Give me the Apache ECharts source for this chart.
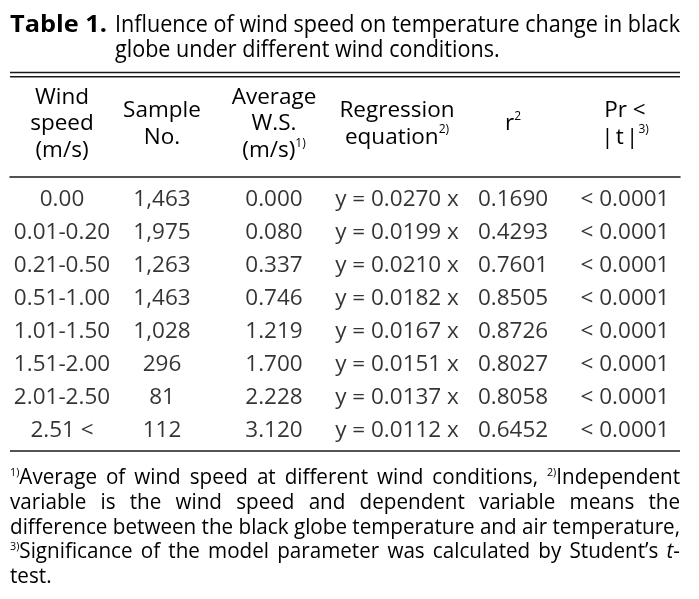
<!DOCTYPE html>
<html><head><meta charset="utf-8">
<script src="https://cdn.jsdelivr.net/npm/echarts@6/dist/echarts.min.js"></script>
<style>html,body{margin:0;padding:0;background:#fff}#c{width:699px;height:599px}</style>
</head><body><div id="c"></div>
<script>
// ---- data ----
const windSpeed = ['0.00', '0.01-0.20', '0.21-0.50', '0.51-1.00', '1.01-1.50', '1.51-2.00', '2.01-2.50', '2.51 <'];
const sampleNo = [1463, 1975, 1263, 1463, 1028, 296, 81, 112];
const avgWS = [0.000, 0.080, 0.337, 0.746, 1.219, 1.700, 2.228, 3.120];
const regCoef = [0.0270, 0.0199, 0.0210, 0.0182, 0.0167, 0.0151, 0.0137, 0.0112];
const r2 = [0.1690, 0.4293, 0.7601, 0.8505, 0.8726, 0.8027, 0.8058, 0.6452];
const prT = ['< 0.0001', '< 0.0001', '< 0.0001', '< 0.0001', '< 0.0001', '< 0.0001', '< 0.0001', '< 0.0001'];
const headers = [
  ['Wind', 'speed', '(m/s)'],
  ['Sample', 'No.'],
  ['Average', 'W.S.', '(m/s){sup|1)}'],
  ['Regression', 'equation{sup|2)}'],
  ['r{sup|2}'],
  ['Pr <', '|\u200at\u200a|{sup|3)}']
];
const titleBold = 'Table 1.';
const titleLines = ['Influence of wind speed on temperature change in black', 'globe under different wind conditions.'];
const footnotes = [
  '{sup|1)}Average of wind speed at different wind conditions, {sup|2)}Independent',
  'variable is the wind speed and dependent variable means the',
  'difference between the black globe temperature and air temperature,',
  '{sup|3)}Significance of the model parameter was calculated by Student\u2019s {it|t}-',
  'test.'
];

// ---- layout / style ----
const FF = "'Open Sans', sans-serif";
const INK = '#000';
const RULE = '#1a1a1a';
const colCenters = [62, 162, 274, 397, 513, 625];
const L = 10, R = 680;
const cellFont = 22.5;
const ctx = document.createElement('canvas').getContext('2d');
function tw(text, size, weight, style) {
  ctx.font = (style || 'normal') + ' ' + (weight || 'normal') + ' ' + size + 'px ' + FF;
  return ctx.measureText(text).width;
}
const cols = [
  windSpeed,
  sampleNo.map(v => v.toLocaleString('en-US')),
  avgWS.map(v => v.toFixed(3)),
  regCoef.map(v => 'y = ' + v.toFixed(4) + ' x'),
  r2.map(v => v.toFixed(4)),
  prT
];
const rowNames = windSpeed.map((_, i) => 'r' + i);

const chart = echarts.init(document.getElementById('c'), null, {renderer: 'canvas', width: 699, height: 599});

const series = cols.map((col, c) => ({
  type: 'scatter',
  xAxisIndex: 0,
  symbolSize: 1,
  itemStyle: {color: 'rgba(0,0,0,0)'},
  silent: true,
  clip: false,
  data: col.map((t, r) => ({value: [colCenters[c], r], name: t})),
  label: {
    show: true, position: 'inside', formatter: p => p.name,
    color: INK, fontFamily: FF, fontSize: cellFont
  }
}));
// bottom rule of the table, drawn by a custom series just below the last row
series.push({
  type: 'custom',
  silent: true,
  clip: false,
  z: 50,
  data: [[L, rowNames.length - 1]],
  renderItem: (params, api) => {
    const p = api.coord([api.value(0), api.value(1)]);
    const step = api.size([0, 1])[1];
    const y = p[1] + step / 2 + 4.3;
    return {type: 'rect', shape: {x: L, y: y - 0.8, width: R - L, height: 1.6}, style: {fill: RULE}};
  }
});

// graphic elements
const g = [];
let gid = 0;
function rule(y, w) {
  g.push({id: 'rule' + (gid++), type: 'rect', z: 100, shape: {x: L, y: y - w / 2, width: R - L, height: w}, style: {fill: RULE}, silent: true});
}
rule(72.5, 1.3); rule(76.8, 1.6);

// title
const titleSize = 24;
g.push({id: 'tb', type: 'text', x: L, y: 25, style: {text: titleBold, fontFamily: FF, fontWeight: 'bold', fontSize: titleSize, fill: INK, verticalAlign: 'middle', align: 'left'}, scaleX: 97 / tw(titleBold, titleSize, 'bold')});
const tScale = (R - 115) / tw(titleLines[0], titleSize);
titleLines.forEach((t, i) => {
  g.push({id: 'tl' + i, type: 'text', x: 115, y: 25 + 25 * i, style: {text: t, fontFamily: FF, fontSize: titleSize, fill: INK, verticalAlign: 'middle', align: 'left'}, scaleX: tScale});
});

// header
const headRich = {sup: {fontSize: 12, fontFamily: FF, verticalAlign: 'top', fill: INK, lineHeight: 22}};
headers.forEach((lines, c) => {
  g.push({id: 'h' + c, type: 'text', x: colCenters[c], y: 124, style: {
    text: lines.join('\n'), fontFamily: FF, fontSize: cellFont, lineHeight: 26.5, fill: INK,
    align: 'center', verticalAlign: 'middle', rich: headRich
  }});
});

// footnotes (justified)
const fnSize = 22;
const supSize = 11.5;
const fnRich = {
  sup: {fontSize: supSize, fontFamily: FF, verticalAlign: 'top', fill: INK, lineHeight: 20},
  it: {fontSize: fnSize, fontFamily: FF, fontStyle: 'italic', fill: INK}
};
function parts(word) {
  const out = []; const re = /\{(\w+)\|([^}]*)\}/g; let last = 0, m;
  while ((m = re.exec(word))) {
    if (m.index > last) out.push({t: word.slice(last, m.index)});
    out.push({t: m[2], s: m[1]}); last = re.lastIndex;
  }
  if (last < word.length) out.push({t: word.slice(last)});
  return out;
}
function wordW(word) {
  return parts(word).reduce((a, p) => a + (p.s === 'sup' ? tw(p.t, supSize) : p.s === 'it' ? tw(p.t, fnSize, 'normal', 'italic') : tw(p.t, fnSize)), 0);
}
const spaceW = tw(' ', fnSize);
const natural = s => { const w = s.split(' '); return w.reduce((a, x) => a + wordW(x), 0) + spaceW * (w.length - 1); };
const fnScale = (R - L) / natural(footnotes[2]);
footnotes.forEach((line, i) => {
  const words = line.split(' ');
  const ws = words.map(w => wordW(w) * fnScale);
  const total = ws.reduce((a, b) => a + b, 0);
  const justify = i < footnotes.length - 1;
  const gap = justify ? (R - L - total) / (words.length - 1) : spaceW * fnScale;
  let x = L;
  const y = 478 + 24.7 * i;
  words.forEach((w, k) => {
    g.push({id: 'f' + i + '_' + k, type: 'text', x: x, y: y, scaleX: fnScale, style: {
      text: w, fontFamily: FF, fontSize: fnSize, fill: INK, align: 'left', verticalAlign: 'middle', rich: fnRich
    }});
    x += ws[k] + gap;
  });
});

// rule below the header is the grid's top x axis line
chart.setOption({
  backgroundColor: '#fff',
  animation: false,
  grid: {left: L, right: 699 - R, top: 183.5, bottom: 152.3},
  xAxis: [
    {type: 'value', min: L, max: R, show: false},
    {type: 'value', min: L, max: R, position: 'top', offset: 6.5,
     axisLine: {show: true, onZero: false, lineStyle: {color: RULE, width: 1.6}},
     axisTick: {show: false}, axisLabel: {show: false}, splitLine: {show: false}}
  ],
  yAxis: {type: 'category', data: rowNames, inverse: true, show: false},
  series: series,
  graphic: {elements: g}
});
</script>
</body></html>
